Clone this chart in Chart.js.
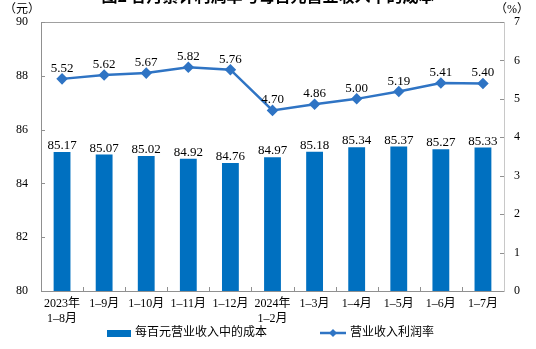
<!DOCTYPE html>
<html>
<head>
<meta charset="utf-8">
<script src="https://cdn.jsdelivr.net/npm/chart.js@4"></script>
<style>
  html, body { margin: 0; padding: 0; background: #fff; overflow: hidden; }
  #wrap { position: relative; width: 536px; height: 349px; }
  #title {
    position: absolute; left: 0; width: 536px; top: -17px; text-align: center;
    font: bold 16px "Noto Sans CJK SC", sans-serif; color: #000; z-index: 2;
  }
</style>
</head>
<body>
<div id="wrap">
  <div id="title">图2 各月累计利润率与每百元营业收入中的成本</div>
  <canvas id="chart" width="536" height="349"></canvas>
</div>
<script>
const categories = [
  ["2023年", "1–8月"], "1–9月", "1–10月", "1–11月", "1–12月",
  ["2024年", "1–2月"], "1–3月", "1–4月", "1–5月", "1–6月", "1–7月"
];
const costPer100 = [85.17, 85.07, 85.02, 84.92, 84.76, 84.97, 85.18, 85.34, 85.37, 85.27, 85.33];
const profitRate = [5.52, 5.62, 5.67, 5.82, 5.76, 4.70, 4.86, 5.00, 5.19, 5.41, 5.40];
const leftTicks = [80, 82, 84, 86, 88, 90];
const rightTicks = [0, 1, 2, 3, 4, 5, 6, 7];

const FONT = "'Liberation Serif', 'Noto Sans CJK SC', serif";
const BAR_COLOR = "#0070c0";
const LINE_COLOR = "#2f74c4";

const extras = {
  id: "extras",
  afterDraw(chart) {
    const ctx = chart.ctx;
    const area = chart.chartArea;
    const x = chart.scales.x;
    const yL = chart.scales.y;
    const yR = chart.scales.y1;

    ctx.save();
    // box
    ctx.strokeStyle = "#a0a0a0";
    ctx.lineWidth = 1;
    ctx.beginPath();
    ctx.moveTo(area.left + 0.5, area.top + 0.5);
    ctx.lineTo(area.right + 0.5, area.top + 0.5);
    ctx.stroke();
    ctx.strokeStyle = "#c8c8c8";
    ctx.beginPath();
    ctx.moveTo(area.right + 0.5, area.top);
    ctx.lineTo(area.right + 0.5, area.bottom);
    ctx.stroke();

    // inward ticks
    ctx.strokeStyle = "#909090";
    ctx.beginPath();
    leftTicks.forEach(function (v) {
      const py = Math.round(yL.getPixelForValue(v)) + 0.5;
      ctx.moveTo(area.left, py);
      ctx.lineTo(area.left + 4, py);
    });
    rightTicks.forEach(function (v) {
      const py = Math.round(yR.getPixelForValue(v)) + 0.5;
      ctx.moveTo(area.right, py);
      ctx.lineTo(area.right - 4, py);
    });
    for (let i = 1; i < categories.length; i++) {
      const px = Math.round((x.getPixelForValue(i - 1) + x.getPixelForValue(i)) / 2) + 0.5;
      ctx.moveTo(px, area.bottom);
      ctx.lineTo(px, area.bottom - 4);
    }
    ctx.stroke();

    // data labels
    ctx.fillStyle = "#000";
    ctx.font = "13px " + FONT;
    ctx.textAlign = "center";
    ctx.textBaseline = "alphabetic";
    chart.getDatasetMeta(1).data.forEach(function (bar, i) {
      ctx.fillText(costPer100[i].toFixed(2), bar.x, bar.y - 3);
    });
    chart.getDatasetMeta(0).data.forEach(function (pt, i) {
      ctx.fillText(profitRate[i].toFixed(2), pt.x, pt.y - 7);
    });

    // units
    ctx.font = "12px " + FONT;
    ctx.fillText("（元）", 22, 13);
    ctx.fillText("（%）", 512, 13);

    // legend
    const ly = 333;
    ctx.fillStyle = BAR_COLOR;
    ctx.fillRect(107, ly - 3, 24, 7);
    ctx.fillStyle = "#000";
    ctx.textAlign = "left";
    ctx.textBaseline = "middle";
    ctx.font = "12px " + FONT;
    ctx.fillText("每百元营业收入中的成本", 135, ly);
    ctx.strokeStyle = LINE_COLOR;
    ctx.lineWidth = 2.5;
    ctx.beginPath();
    ctx.moveTo(320, ly);
    ctx.lineTo(346, ly);
    ctx.stroke();
    ctx.fillStyle = LINE_COLOR;
    ctx.beginPath();
    ctx.moveTo(333, ly - 4);
    ctx.lineTo(337, ly);
    ctx.lineTo(333, ly + 4);
    ctx.lineTo(329, ly);
    ctx.closePath();
    ctx.fill();
    ctx.fillStyle = "#000";
    ctx.fillText("营业收入利润率", 350, ly);
    ctx.restore();
  },
};

new Chart(document.getElementById("chart").getContext("2d"), {
  data: {
    labels: categories,
    datasets: [
      {
        type: "line",
        label: "营业收入利润率",
        data: profitRate,
        yAxisID: "y1",
        borderColor: LINE_COLOR,
        backgroundColor: LINE_COLOR,
        borderWidth: 2.5,
        pointStyle: "rectRot",
        pointRadius: 4,
        pointHoverRadius: 4,
        tension: 0,
        order: 0,
      },
      {
        type: "bar",
        label: "每百元营业收入中的成本",
        data: costPer100,
        yAxisID: "y",
        backgroundColor: BAR_COLOR,
        categoryPercentage: 1,
        barPercentage: 0.4,
        order: 1,
      },
    ],
  },
  options: {
    responsive: false,
    animation: false,
    events: [],
    layout: { padding: { top: 22, left: 0, right: 0, bottom: 0 } },
    plugins: { legend: { display: false }, tooltip: { enabled: false } },
    scales: {
      x: {
        grid: { display: false, drawTicks: false },
        border: { color: "#909090" },
        ticks: { font: { family: FONT, size: 12 }, color: "#000", padding: 6, maxRotation: 0 },
        afterFit: function (s) { s.height = 58; },
      },
      y: {
        position: "left",
        min: 80,
        max: 90,
        afterBuildTicks: function (s) { s.ticks = leftTicks.map(function (v) { return { value: v }; }); },
        grid: { display: false, drawTicks: false },
        border: { color: "#909090" },
        ticks: { font: { family: FONT, size: 12 }, color: "#000", padding: 13 },
        afterFit: function (s) { s.width = 41; },
      },
      y1: {
        position: "right",
        min: 0,
        max: 7,
        afterBuildTicks: function (s) { s.ticks = rightTicks.map(function (v) { return { value: v }; }); },
        grid: { display: false, drawTicks: false },
        border: { color: "#c8c8c8" },
        ticks: { font: { family: FONT, size: 12 }, color: "#000", padding: 10 },
        afterFit: function (s) { s.width = 32; },
      },
    },
  },
  plugins: [extras],
});
</script>
</body>
</html>
